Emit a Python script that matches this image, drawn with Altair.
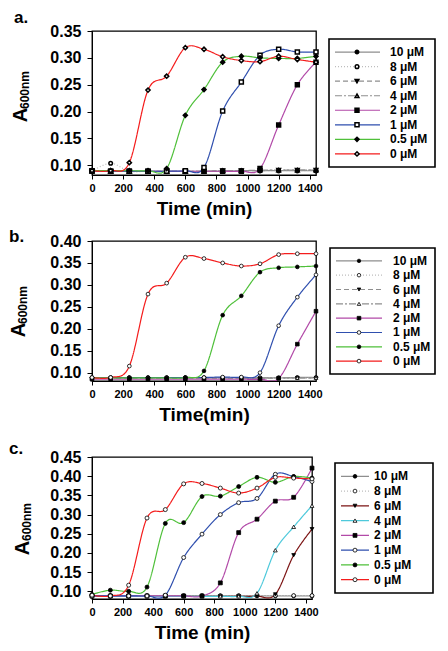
import altair as alt
import pandas as pd

TIMES = [0, 120, 240, 360, 480, 600, 720, 840, 960, 1080, 1200, 1320, 1440]
LABELS = ["10 μM", "8 μM", "6 μM", "4 μM", "2 μM", "1 μM", "0.5 μM", "0 μM"]
X_TICKS = [0, 200, 400, 600, 800, 1000, 1200, 1400]

# ---- panel a ----
A_10 = [0.089, 0.089, 0.089, 0.089, 0.089, 0.089, 0.089, 0.089, 0.090, 0.090, 0.090, 0.090, 0.090]
A_8 = [0.089, 0.104, 0.089, 0.089, 0.089, 0.089, 0.089, 0.090, 0.090, 0.090, 0.090, 0.090, 0.090]
A_6 = [0.089, 0.089, 0.089, 0.089, 0.089, 0.089, 0.089, 0.090, 0.090, 0.090, 0.091, 0.091, 0.091]
A_4 = [0.089, 0.089, 0.089, 0.089, 0.089, 0.089, 0.089, 0.090, 0.090, 0.091, 0.091, 0.091, 0.091]
A_2 = [0.090, 0.089, 0.089, 0.089, 0.089, 0.089, 0.089, 0.089, 0.089, 0.094, 0.175, 0.250, 0.292]
A_1 = [0.090, 0.089, 0.089, 0.089, 0.089, 0.090, 0.096, 0.201, 0.255, 0.305, 0.316, 0.311, 0.311]
A_05 = [0.090, 0.090, 0.090, 0.090, 0.094, 0.193, 0.241, 0.292, 0.303, 0.300, 0.299, 0.299, 0.303]
A_0 = [0.090, 0.090, 0.105, 0.240, 0.266, 0.319, 0.316, 0.302, 0.295, 0.293, 0.303, 0.297, 0.292]

# ---- panel b ----
B_10 = [0.088, 0.088, 0.088, 0.088, 0.088, 0.088, 0.088, 0.088, 0.088, 0.088, 0.088, 0.089, 0.089]
B_8 = [0.089, 0.089, 0.089, 0.089, 0.089, 0.089, 0.089, 0.089, 0.089, 0.089, 0.089, 0.089, 0.089]
B_6 = [0.087, 0.087, 0.087, 0.087, 0.087, 0.087, 0.087, 0.087, 0.087, 0.087, 0.088, 0.088, 0.088]
B_4 = [0.088, 0.088, 0.088, 0.088, 0.088, 0.088, 0.088, 0.088, 0.088, 0.088, 0.088, 0.088, 0.088]
B_2 = [0.085, 0.085, 0.085, 0.085, 0.085, 0.085, 0.085, 0.085, 0.085, 0.085, 0.087, 0.165, 0.240]
B_1 = [0.089, 0.089, 0.089, 0.089, 0.089, 0.089, 0.089, 0.090, 0.090, 0.100, 0.207, 0.272, 0.323]
B_05 = [0.088, 0.088, 0.088, 0.088, 0.088, 0.089, 0.104, 0.231, 0.275, 0.329, 0.339, 0.341, 0.343]
B_0 = [0.089, 0.089, 0.115, 0.279, 0.304, 0.363, 0.360, 0.350, 0.343, 0.348, 0.369, 0.371, 0.371]

# ---- panel c ----
C_10 = [0.088, 0.088, 0.088, 0.088, 0.088, 0.088, 0.088, 0.088, 0.088, 0.088, 0.088, 0.088, 0.088]
C_8 = [0.089, 0.089, 0.089, 0.089, 0.089, 0.089, 0.089, 0.089, 0.089, 0.089, 0.089, 0.089, 0.089]
C_6 = [0.087, 0.087, 0.087, 0.087, 0.087, 0.087, 0.087, 0.087, 0.087, 0.087, 0.092, 0.194, 0.262]
C_4 = [0.087, 0.087, 0.087, 0.087, 0.087, 0.087, 0.087, 0.087, 0.087, 0.095, 0.207, 0.268, 0.323]
C_2 = [0.088, 0.088, 0.088, 0.088, 0.088, 0.088, 0.088, 0.122, 0.253, 0.288, 0.335, 0.345, 0.421]
C_1 = [0.088, 0.088, 0.088, 0.088, 0.090, 0.188, 0.249, 0.300, 0.331, 0.342, 0.405, 0.399, 0.386]
C_05 = [0.092, 0.103, 0.100, 0.111, 0.277, 0.279, 0.347, 0.348, 0.373, 0.397, 0.384, 0.399, 0.395]
C_0 = [0.090, 0.088, 0.116, 0.291, 0.313, 0.380, 0.381, 0.369, 0.356, 0.369, 0.397, 0.395, 0.393]

FONT = "Liberation Sans"

RED, GREEN, BLUE, MAGENTA = "#f41c1c", "#4fc03a", "#2f4fae", "#b24aa8"
CYAN, DARKRED = "#4ec9db", "#7c1414"
G1, G2 = "#8e8e8e", "#bdbdbd"

STYLE_A = dict(
    colors=[G1, G2, G1, G1, MAGENTA, BLUE, GREEN, RED],
    dashes=[[1, 0], [1, 2], [5, 3], [7, 2, 2, 2], [1, 0], [1, 0], [1, 0], [1, 0]],
    widths=[1.2, 1.2, 1.2, 1.2, 2, 2, 2, 2],
    shapes=["circle", "circle", "triangle-down", "triangle-up", "square", "square", "diamond", "diamond"],
    fills=["black", "white", "black", "white", "black", "white", "black", "white"],
    sizes=[12, 18, 14, 22, 48, 48, 72, 80],
    swidth=1.5,
)
STYLE_B = dict(
    colors=[G1, G2, G1, G1, MAGENTA, BLUE, GREEN, RED],
    dashes=[[1, 0], [1, 2], [5, 3], [7, 2, 2, 2], [1, 0], [1, 0], [1, 0], [1, 0]],
    widths=[1.2, 1.2, 1.2, 1.2, 2, 2, 2, 2],
    shapes=["circle", "circle", "triangle-down", "triangle-up", "square", "circle", "circle", "circle"],
    fills=["black", "white", "black", "white", "black", "white", "black", "white"],
    sizes=[12, 14, 14, 14, 16, 18, 18, 18],
    swidth=0.8,
)
STYLE_C = dict(
    colors=[G1, G2, DARKRED, CYAN, MAGENTA, BLUE, GREEN, RED],
    dashes=[[1, 0], [1, 2], [1, 0], [1, 0], [1, 0], [1, 0], [1, 0], [1, 0]],
    widths=[1.2, 1.2, 2, 2, 2, 2, 2, 2],
    shapes=["circle", "circle", "triangle-down", "triangle-up", "square", "circle", "circle", "circle"],
    fills=["black", "white", "black", "white", "black", "white", "black", "white"],
    sizes=[14, 16, 14, 14, 16, 18, 18, 18],
    swidth=0.8,
)

INDEP = dict(color="independent", strokeDash="independent", strokeWidth="independent",
             shape="independent", fill="independent", size="independent")


def make_df(series):
    rows = []
    for lab, vals in zip(LABELS, series):
        for t, v in zip(TIMES, vals):
            rows.append({"time": t, "value": v, "label": lab})
    return pd.DataFrame(rows)


def enc_styles(st):
    dom = LABELS
    return dict(
        color=alt.Color("label:N", scale=alt.Scale(domain=dom, range=st["colors"]), legend=None),
        strokeDash=alt.StrokeDash("label:N", scale=alt.Scale(domain=dom, range=st["dashes"]), legend=None),
        strokeWidth=alt.StrokeWidth("label:N", scale=alt.Scale(domain=dom, range=st["widths"]), legend=None),
    )


def pt_styles(st):
    dom = LABELS
    return dict(
        shape=alt.Shape("label:N", scale=alt.Scale(domain=dom, range=st["shapes"]), legend=None),
        fill=alt.Fill("label:N", scale=alt.Scale(domain=dom, range=st["fills"]), legend=None),
        size=alt.Size("label:N", scale=alt.Scale(domain=dom, range=st["sizes"]), legend=None),
    )


def panel(series, st, ydom, yticks, w, h, xtitle, letter, a_pos, sub_pos, let_pos):
    df = make_df(series)
    x = alt.X("time:Q", scale=alt.Scale(domain=[0, 1440], nice=False),
              axis=alt.Axis(values=X_TICKS, title=xtitle, grid=False, labelFlush=False,
                            labelFont=FONT, labelFontSize=11, labelFontWeight="bold",
                            labelColor="black", titleFont=FONT, titleFontSize=19,
                            titleFontWeight="bold", titleColor="black", titlePadding=6,
                            tickSize=4, tickColor="black", domainColor="black",
                            labelPadding=3, format="d"))
    y = alt.Y("value:Q", scale=alt.Scale(domain=ydom, nice=False, zero=False),
              axis=alt.Axis(values=yticks, title=None, grid=False, labelFlush=False,
                            format=".2f", labelFont=FONT, labelFontSize=16,
                            labelFontWeight="bold", labelColor="black", tickSize=5,
                            tickColor="black", domainColor="black", labelPadding=6))
    base = alt.Chart(df)
    lines = base.mark_line(interpolate="cardinal", clip=True).encode(
        x=x, y=y, detail="label:N", **enc_styles(st))
    points = base.mark_point(filled=True, stroke="black", strokeWidth=st["swidth"],
                             opacity=1).encode(x=x, y=y, **pt_styles(st))
    txt = pd.DataFrame({"t": ["A"]})
    a_txt = alt.Chart(txt).mark_text(text="A", font=FONT, fontSize=20, fontWeight="bold",
                                     angle=270, align="center", baseline="alphabetic",
                                     color="black").encode(x=alt.value(a_pos[0]), y=alt.value(a_pos[1]))
    s_txt = alt.Chart(txt).mark_text(text="600nm", font=FONT, fontSize=12, fontWeight="bold",
                                     angle=270, align="center", baseline="alphabetic",
                                     color="black").encode(x=alt.value(sub_pos[0]), y=alt.value(sub_pos[1]))
    l_txt = alt.Chart(txt).mark_text(text=letter, font=FONT, fontSize=17, fontWeight="bold",
                                     align="left", baseline="alphabetic",
                                     color="black").encode(x=alt.value(let_pos[0]), y=alt.value(let_pos[1]))
    return alt.layer(lines, points, a_txt, s_txt, l_txt).properties(
        width=w, height=h,
        view=alt.ViewBackground(stroke="black", strokeWidth=1.3))


def legend(st, w, h, x_line, x_pt, x_txt):
    ldf = pd.DataFrame({"label": LABELS})
    yl = alt.Y("label:N", sort=LABELS,
               scale=alt.Scale(domain=LABELS, type="point", padding=0.9), axis=None)
    base = alt.Chart(ldf)
    rule = base.mark_rule().encode(x=alt.value(x_line[0]), x2=alt.value(x_line[1]), y=yl,
                                   **enc_styles(st))
    pts = base.mark_point(filled=True, stroke="black", strokeWidth=st["swidth"], opacity=1).encode(
        x=alt.value(x_pt), y=yl, **pt_styles(st))
    txt = base.mark_text(align="left", baseline="middle", font=FONT, fontSize=12,
                         fontWeight="bold", color="black").encode(
        x=alt.value(x_txt), y=yl, text="label:N")
    return alt.layer(rule, pts, txt).properties(
        width=w, height=h,
        view=alt.ViewBackground(stroke="black", strokeWidth=1.6))


pa = panel([A_10, A_8, A_6, A_4, A_2, A_1, A_05, A_0], STYLE_A, [0.082, 0.35],
           [0.10, 0.15, 0.20, 0.25, 0.30, 0.35], 224, 144, "Time (min)", "a.",
           (-65, 84), (-63, 59), (-78, -8))
la = legend(STYLE_A, 106, 128, (6, 51), 28, 61)

pb = panel([B_10, B_8, B_6, B_4, B_2, B_1, B_05, B_0], STYLE_B, [0.081, 0.40],
           [0.10, 0.15, 0.20, 0.25, 0.30, 0.35, 0.40], 224, 140, "Time(min)", "b.",
           (-67, 89), (-65, 64), (-83, 1))
lb = legend(STYLE_B, 105, 126, (6, 52), 29, 63)

pc = panel([C_10, C_8, C_6, C_4, C_2, C_1, C_05, C_0], STYLE_C, [0.080, 0.45],
           [0.10, 0.15, 0.20, 0.25, 0.30, 0.35, 0.40, 0.45], 220, 142, "Time (min)", "c.",
           (-63, 91), (-61, 65), (-83, -3))
lc = legend(STYLE_C, 98, 130, (6, 34), 20, 39)

row_a = alt.hconcat(pa, la, spacing=13, bounds="flush", center=True)
row_b = alt.hconcat(pb, lb, spacing=14, bounds="flush", center=True)
row_c = alt.hconcat(pc, lc, spacing=23, bounds="flush", center=True)

top = alt.vconcat(row_a, row_b, spacing=8).resolve_scale(**INDEP)
chart = alt.vconcat(top, row_c, spacing=14).resolve_scale(**INDEP).properties(
    padding={"left": 0, "top": 0, "right": 0, "bottom": 0}
)

chart.save("out.html", embed_options={"renderer": "svg", "actions": False})
